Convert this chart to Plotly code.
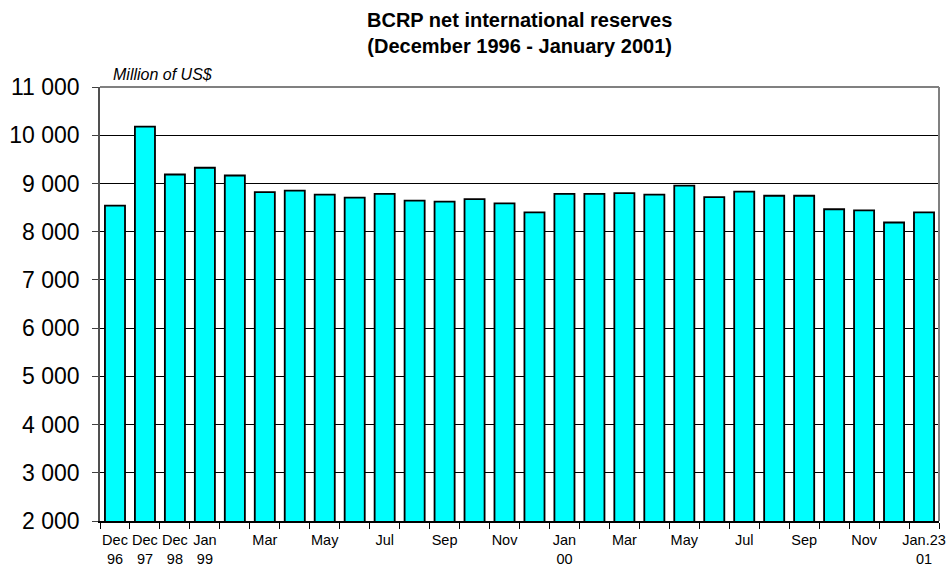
import plotly.graph_objects as go

months = ["Dec 96", "Dec 97", "Dec 98", "Jan 99", "Feb 99", "Mar 99", "Apr 99", "May 99",
          "Jun 99", "Jul 99", "Aug 99", "Sep 99", "Oct 99", "Nov 99", "Dec 99", "Jan 00",
          "Feb 00", "Mar 00", "Apr 00", "May 00", "Jun 00", "Jul 00", "Aug 00", "Sep 00",
          "Oct 00", "Nov 00", "Dec 00", "Jan.23 01"]
reserves = [8540, 10180, 9185, 9325, 9165, 8820, 8850, 8770, 8705, 8785, 8645, 8625,
            8675, 8585, 8400, 8785, 8785, 8800, 8770, 8955, 8715, 8830, 8745, 8745,
            8465, 8440, 8190, 8400]
tick_labels = ["Dec<br>96", "Dec<br>97", "Dec<br>98", "Jan<br>99", "", "Mar", "", "May", "",
               "Jul", "", "Sep", "", "Nov", "", "Jan<br>00", "", "Mar", "", "May", "", "Jul",
               "", "Sep", "", "Nov", "", "Jan.23<br>01"]
y_ticks = [2000, 3000, 4000, 5000, 6000, 7000, 8000, 9000, 10000, 11000]

idx = list(range(len(months)))
FONT = "Liberation Sans, Arial, sans-serif"

fig = go.Figure()
fig.add_trace(go.Bar(
    x=idx, y=reserves, width=0.67,
    marker=dict(color="#00FFFF", line=dict(color="black", width=1.8)),
    hovertext=months,
))

fig.update_layout(
    width=946, height=569,
    margin=dict(l=100, r=7, t=87, b=48),
    paper_bgcolor="white", plot_bgcolor="white",
    separators=". ",
    showlegend=False,
    font=dict(family=FONT, color="black"),
)

fig.update_xaxes(
    range=[-0.5, len(months) - 0.5], automargin=False,
    tickmode="array", tickvals=idx, ticktext=tick_labels,
    ticks="", showgrid=False, zeroline=False,
    showline=True, linecolor="black", linewidth=1.5,
    tickfont=dict(size=14.5, family=FONT),
    tickangle=0, ticklabelstandoff=5, ticklabeloverflow="allow",
    minor=dict(tickmode="linear", tick0=-0.5, dtick=1, ticks="outside",
               ticklen=6, tickcolor="black", tickwidth=1, showgrid=False),
)

fig.update_yaxes(
    range=[2000, 11000], automargin=False,
    tickmode="array", tickvals=y_ticks, tickformat=",d",
    ticks="outside", ticklen=6, tickcolor="#404040",
    showgrid=True, gridcolor="black", gridwidth=1,
    zeroline=False,
    showline=True, linecolor="#505050", linewidth=1.5,
    tickfont=dict(size=23, family=FONT),
    ticklabelstandoff=8,
)

# plot frame (top and right edges, gray)
fig.add_shape(type="line", xref="paper", yref="paper", x0=0, x1=1, y0=1, y1=1,
              line=dict(color="#808080", width=2))
fig.add_shape(type="line", xref="paper", yref="paper", x0=1, x1=1, y0=0, y1=1,
              line=dict(color="#808080", width=2))

# title (two lines, bold)
fig.add_annotation(
    text="<b>BCRP net international reserves<br>(December 1996 - January 2001)</b>",
    xref="paper", yref="paper", x=0.5, y=1 + (87 - 7) / 434,
    xanchor="center", yanchor="top", showarrow=False,
    font=dict(size=20, family=FONT, color="black"),
)

fig.add_annotation(
    text="<i>Million of US$</i>", xref="paper", yref="paper",
    x=0.013, y=1.005, xanchor="left", yanchor="bottom", showarrow=False,
    font=dict(size=16, family=FONT, color="black"),
)

fig.write_html("out.html")
